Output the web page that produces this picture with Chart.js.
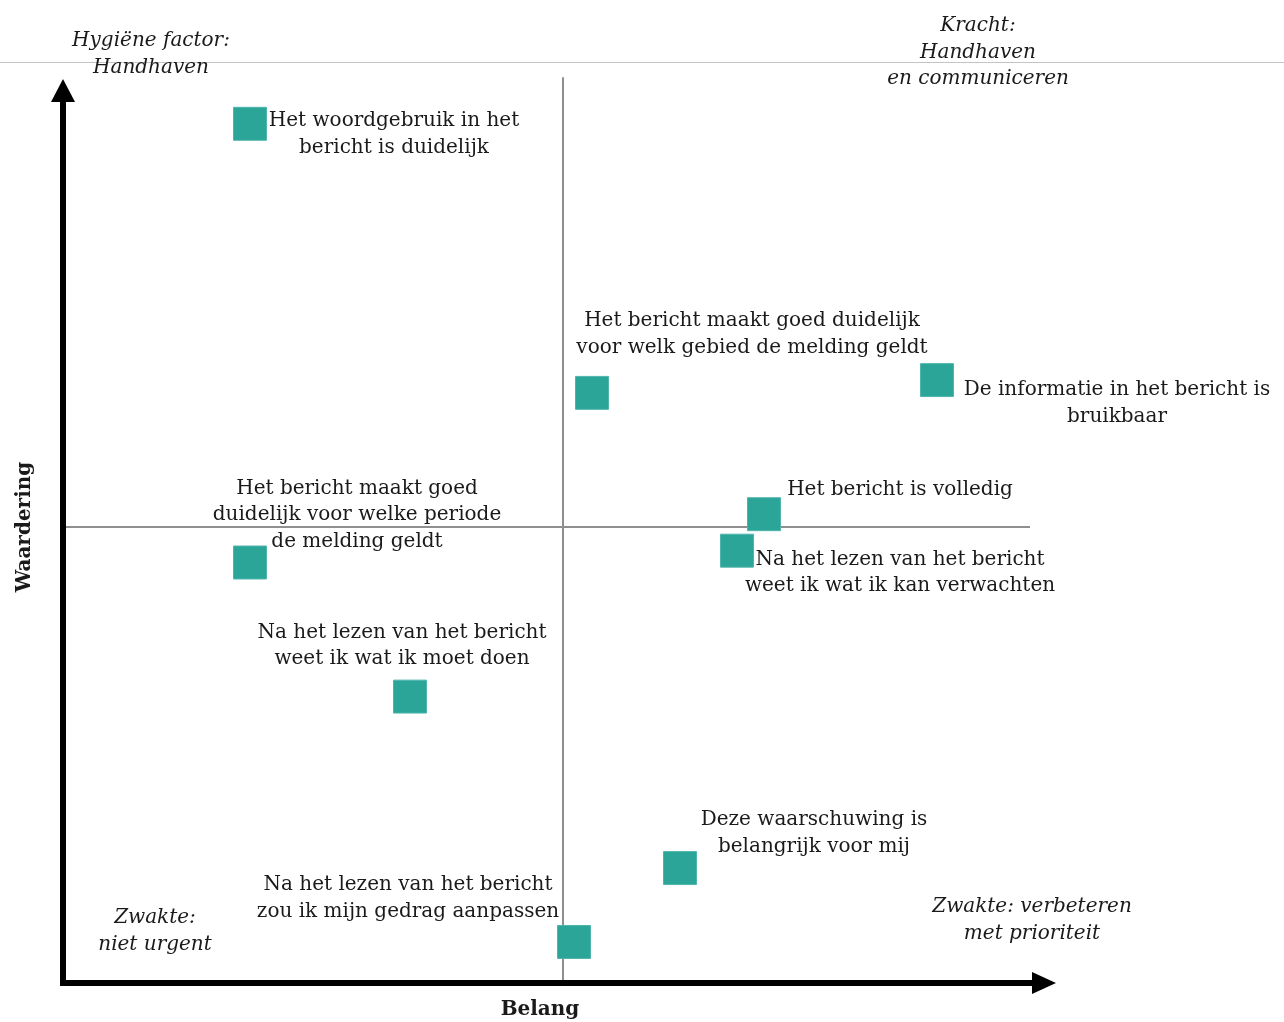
<!DOCTYPE html>
<html>
<head>
<meta charset="utf-8">
<script src="https://cdn.jsdelivr.net/npm/chart.js@4.4.1/dist/chart.umd.min.js"></script>
<style>
  html,body{margin:0;padding:0;background:#fff;}
  #wrap{width:1284px;height:1022px;position:relative;}
</style>
</head>
<body>
<div id="wrap"><canvas id="chart" width="1284" height="1022"></canvas></div>
<script>
// Stellingen (categorieën)
const labels = [
  ['Het woordgebruik in het', 'bericht is duidelijk'],
  ['Het bericht maakt goed duidelijk', 'voor welk gebied de melding geldt'],
  ['De informatie in het bericht is', 'bruikbaar'],
  ['Het bericht is volledig'],
  ['Na het lezen van het bericht', 'weet ik wat ik kan verwachten'],
  ['Het bericht maakt goed', 'duidelijk voor welke periode', 'de melding geldt'],
  ['Na het lezen van het bericht', 'weet ik wat ik moet doen'],
  ['Deze waarschuwing is', 'belangrijk voor mij'],
  ['Na het lezen van het bericht', 'zou ik mijn gedrag aanpassen']
];
// Belang (x) en Waardering (y)
const belang     = [18.7, 52.9, 87.4, 70.1, 67.4, 18.7, 34.7, 61.7, 51.1];
const waardering = [94.2, 64.7, 66.1, 51.4, 47.4, 46.1, 31.4, 12.6, 4.5];
// kwadrantgrenzen
const midX = 50;
const midY = 50;

// Label plaatsing t.o.v. het punt (px): dx = midden van tekst, dy = midden eerste regel
const labelOffsets = [
  [144, -3], [160, -72], [180, 10], [136, -24], [163, 9],
  [107, -74], [-8, -64], [134, -48], [-166, -57]
];

const quadrantTexts = [
  {lines: ['Hygiëne factor:', 'Handhaven'], x: 151, y: 41},
  {lines: ['Kracht:', 'Handhaven', 'en communiceren'], x: 978, y: 26},
  {lines: ['Zwakte:', 'niet urgent'], x: 155, y: 918},
  {lines: ['Zwakte: verbeteren', 'met prioriteit'], x: 1032, y: 907}
];

const serif = '"DejaVu Serif", serif';
const lineH = 26.5;

const overlay = {
  id: 'overlay',
  beforeDraw(chart) {
    const ctx = chart.ctx;
    ctx.save();
    ctx.strokeStyle = '#c4c4c4';
    ctx.lineWidth = 1;
    ctx.beginPath();
    ctx.moveTo(0, 62.5); ctx.lineTo(chart.width, 62.5);
    ctx.stroke();
    ctx.restore();
  },
  afterDraw(chart) {
    const ctx = chart.ctx;
    const a = chart.chartArea;
    const xs = chart.scales.x, ys = chart.scales.y;
    ctx.save();
    // assen met pijlen
    ctx.strokeStyle = '#000';
    ctx.fillStyle = '#000';
    ctx.lineWidth = 6;
    ctx.beginPath();
    ctx.moveTo(a.left, a.bottom + 3);
    ctx.lineTo(a.left, a.top);
    ctx.moveTo(a.left - 3, a.bottom);
    ctx.lineTo(a.right, a.bottom);
    ctx.stroke();
    ctx.beginPath();
    ctx.moveTo(a.left - 12, a.top + 1);
    ctx.lineTo(a.left + 12, a.top + 1);
    ctx.lineTo(a.left, a.top - 22);
    ctx.closePath();
    ctx.fill();
    ctx.beginPath();
    ctx.moveTo(a.right - 1, a.bottom - 11);
    ctx.lineTo(a.right - 1, a.bottom + 11);
    ctx.lineTo(a.right + 23, a.bottom);
    ctx.closePath();
    ctx.fill();

    // labels bij de punten
    ctx.fillStyle = '#1a1a1a';
    ctx.textAlign = 'center';
    ctx.textBaseline = 'middle';
    ctx.font = '20px ' + serif;
    labels.forEach((lines, i) => {
      const px = xs.getPixelForValue(belang[i]);
      const py = ys.getPixelForValue(waardering[i]);
      const [dx, dy] = labelOffsets[i];
      lines.forEach((t, j) => ctx.fillText(t, px + dx, py + dy + j * lineH));
    });

    // kwadrant teksten
    ctx.font = 'italic 20px ' + serif;
    quadrantTexts.forEach(q => {
      q.lines.forEach((t, j) => ctx.fillText(t, q.x, q.y + j * lineH));
    });

    // as titels
    ctx.font = 'bold 20px ' + serif;
    ctx.fillText('Belang', 540, 1010);
    ctx.translate(25, 527);
    ctx.rotate(-Math.PI / 2);
    ctx.fillText('Waardering', 0, 0);
    ctx.restore();
  }
};

new Chart(document.getElementById('chart'), {
  type: 'scatter',
  data: {
    datasets: [
      {
        type: 'line',
        data: [{x: midX, y: 0}, {x: midX, y: 99.3}],
        borderColor: '#8f8f8f',
        borderWidth: 2,
        pointRadius: 0,
        clip: false,
        order: 2
      },
      {
        type: 'line',
        data: [{x: 0, y: midY}, {x: 96.7, y: midY}],
        borderColor: '#8f8f8f',
        borderWidth: 2,
        pointRadius: 0,
        clip: false,
        order: 2
      },
      {
        data: belang.map((v, i) => ({x: v, y: waardering[i]})),
        pointStyle: 'rect',
        pointRadius: 23.3,
        pointHoverRadius: 23.3,
        backgroundColor: '#2aa598',
        borderColor: '#4fb5ab',
        borderWidth: 1,
        clip: false,
        order: 1
      }
    ]
  },
  options: {
    responsive: false,
    animation: false,
    devicePixelRatio: 1,
    layout: {padding: {left: 63, right: 251, top: 101, bottom: 39}},
    plugins: {legend: {display: false}, tooltip: {enabled: false}},
    scales: {
      x: {type: 'linear', min: 0, max: 97, display: false},
      y: {type: 'linear', min: 0, max: 96.7, display: false}
    }
  },
  plugins: [overlay]
});
</script>
</body>
</html>
